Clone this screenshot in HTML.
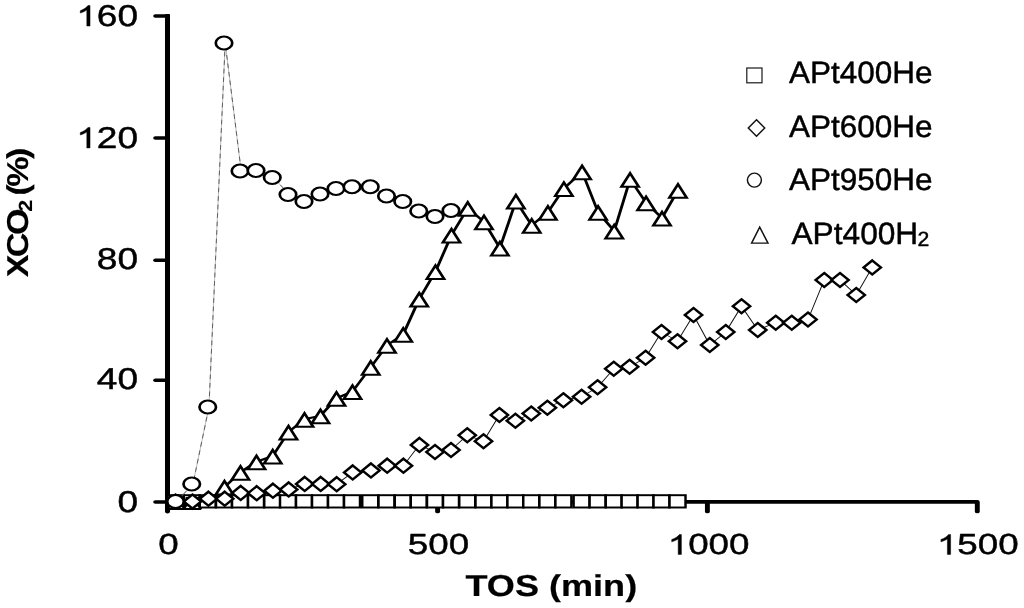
<!DOCTYPE html>
<html><head><meta charset="utf-8"><title>chart</title>
<style>html,body{margin:0;padding:0;background:#fff;}svg{display:block;filter:grayscale(1);}text{font-family:"Liberation Sans",sans-serif;text-rendering:geometricPrecision;fill:#000;stroke:#000;stroke-width:0.45;vector-effect:non-scaling-stroke;stroke-linejoin:round;}</style>
</head><body>
<svg width="1024" height="608" viewBox="0 0 1024 608">
<rect x="0" y="0" width="1024" height="608" fill="#fff"/>
<g transform="scale(1.27 1)">
<g stroke="#000" fill="none" stroke-linecap="round" stroke-width="3.6">
<path d="M131.89 16 V511.6" stroke-width="3.95"/>
<path d="M131.89 14.2 V20" stroke-width="3.95" stroke-linecap="butt"/>
<path d="M132.05 501.9 H769.53" stroke-linecap="butt"/>
<path d="M122.36 16 H131.5" stroke-width="3.5"/>
<path d="M122.36 138 H131.5" stroke-width="3.5"/>
<path d="M122.36 260.2 H131.5" stroke-width="3.5"/>
<path d="M122.36 380.2 H131.5" stroke-width="3.5"/>
<path d="M122.36 502 H131.5" stroke-width="3.5"/>
<path d="M344.57 501.9 V511.4" stroke-width="3.86"/>
<path d="M557.01 501.9 V511.4" stroke-width="3.86"/>
<path d="M769.53 501.9 V511.4" stroke-width="3.86"/>
</g>
<g stroke="#000" stroke-width="1.95" fill="#fff">
<rect x="131.89" y="495.2" width="12.6" height="12.3"/>
<rect x="144.69" y="495.2" width="12.6" height="12.3"/>
<rect x="157.28" y="495.2" width="12.6" height="12.3"/>
<rect x="170.08" y="495.2" width="12.6" height="12.3"/>
<rect x="182.68" y="495.2" width="12.6" height="12.3"/>
<rect x="195.28" y="495.2" width="12.6" height="12.3"/>
<rect x="208.07" y="495.2" width="12.6" height="12.3"/>
<rect x="220.47" y="495.2" width="12.6" height="12.3"/>
<rect x="233.07" y="495.2" width="12.6" height="12.3"/>
<rect x="245.67" y="495.2" width="12.6" height="12.3"/>
<rect x="258.27" y="495.2" width="12.6" height="12.3"/>
<rect x="270.87" y="495.2" width="12.6" height="12.3"/>
<rect x="285.24" y="495.2" width="12.6" height="12.3"/>
<rect x="298.03" y="495.2" width="12.6" height="12.3"/>
<rect x="310.83" y="495.2" width="12.6" height="12.3"/>
<rect x="323.43" y="495.2" width="12.6" height="12.3"/>
<rect x="336.22" y="495.2" width="12.6" height="12.3"/>
<rect x="348.82" y="495.2" width="12.6" height="12.3"/>
<rect x="361.61" y="495.2" width="12.6" height="12.3"/>
<rect x="374.41" y="495.2" width="12.6" height="12.3"/>
<rect x="386.93" y="495.2" width="12.6" height="12.3"/>
<rect x="399.53" y="495.2" width="12.6" height="12.3"/>
<rect x="412.01" y="495.2" width="12.6" height="12.3"/>
<rect x="424.72" y="495.2" width="12.6" height="12.3"/>
<rect x="437.32" y="495.2" width="12.6" height="12.3"/>
<rect x="451.65" y="495.2" width="12.6" height="12.3"/>
<rect x="464.25" y="495.2" width="12.6" height="12.3"/>
<rect x="476.97" y="495.2" width="12.6" height="12.3"/>
<rect x="489.45" y="495.2" width="12.6" height="12.3"/>
<rect x="502.05" y="495.2" width="12.6" height="12.3"/>
<rect x="514.57" y="495.2" width="12.6" height="12.3"/>
<rect x="527.17" y="495.2" width="12.6" height="12.3"/>
</g>
<polyline points="176.77,487 189.37,472.25 201.97,461.75 214.76,456 227.17,432 239.76,419.25 252.36,415.75 264.96,398.25 277.56,391.5 291.93,367.25 304.72,345.25 317.52,334.25 330.12,299 342.91,271.5 355.51,235 368.31,208.25 381.1,221.75 393.62,248 406.22,201 418.7,225.25 431.42,212.25 444.02,188.5 458.35,171.75 470.94,212.25 483.66,231 496.14,179.25 508.74,202.75 521.26,218 533.86,190.25" fill="none" stroke="#000" stroke-width="2.3" stroke-linejoin="round"/>
<path d="M138.19 501.5 H150.98" fill="none" stroke="#000" stroke-width="2.3"/>
<g stroke="#000" stroke-width="2.2" fill="#fff" stroke-linejoin="miter">
<path d="M138.58 495.4 L145.38 509 L131.78 509 Z" stroke-linejoin="bevel"/>
<path d="M151.38 495.4 L158.18 509 L144.58 509 Z" stroke-linejoin="bevel"/>
<path d="M176.77 480.9 L183.57 494.5 L169.97 494.5 Z"/>
<path d="M189.37 466.15 L196.17 479.75 L182.57 479.75 Z"/>
<path d="M201.97 455.65 L208.77 469.25 L195.17 469.25 Z"/>
<path d="M214.76 449.9 L221.56 463.5 L207.96 463.5 Z"/>
<path d="M227.17 425.9 L233.97 439.5 L220.37 439.5 Z"/>
<path d="M239.76 413.15 L246.56 426.75 L232.96 426.75 Z"/>
<path d="M252.36 409.65 L259.16 423.25 L245.56 423.25 Z"/>
<path d="M264.96 392.15 L271.76 405.75 L258.16 405.75 Z"/>
<path d="M277.56 385.4 L284.36 399 L270.76 399 Z"/>
<path d="M291.93 361.15 L298.73 374.75 L285.13 374.75 Z"/>
<path d="M304.72 339.15 L311.52 352.75 L297.92 352.75 Z"/>
<path d="M317.52 328.15 L324.32 341.75 L310.72 341.75 Z"/>
<path d="M330.12 292.9 L336.92 306.5 L323.32 306.5 Z"/>
<path d="M342.91 265.4 L349.71 279 L336.11 279 Z"/>
<path d="M355.51 228.9 L362.31 242.5 L348.71 242.5 Z"/>
<path d="M368.31 202.15 L375.11 215.75 L361.51 215.75 Z"/>
<path d="M381.1 215.65 L387.9 229.25 L374.3 229.25 Z"/>
<path d="M393.62 241.9 L400.42 255.5 L386.82 255.5 Z"/>
<path d="M406.22 194.9 L413.02 208.5 L399.42 208.5 Z"/>
<path d="M418.7 219.15 L425.5 232.75 L411.9 232.75 Z"/>
<path d="M431.42 206.15 L438.22 219.75 L424.62 219.75 Z"/>
<path d="M444.02 182.4 L450.82 196 L437.22 196 Z"/>
<path d="M458.35 165.65 L465.15 179.25 L451.55 179.25 Z"/>
<path d="M470.94 206.15 L477.74 219.75 L464.14 219.75 Z"/>
<path d="M483.66 224.9 L490.46 238.5 L476.86 238.5 Z"/>
<path d="M496.14 173.15 L502.94 186.75 L489.34 186.75 Z"/>
<path d="M508.74 196.65 L515.54 210.25 L501.94 210.25 Z"/>
<path d="M521.26 211.9 L528.06 225.5 L514.46 225.5 Z"/>
<path d="M533.86 184.15 L540.66 197.75 L527.06 197.75 Z"/>
</g>
<rect x="146.14" y="497" width="10.39" height="9.2" fill="#000"/>
<polyline points="138.19,501.5 151.54,501.6 164.13,498.65 176.93,498.65 189.53,492.9 202.13,493.15 214.92,490.65 227.32,489.4 239.92,483.9 252.52,483.9 265.12,484.15 277.72,472.4 292.09,470.4 304.88,465.65 317.68,465.65 330.28,444.9 342.52,452 355.12,450 367.91,435.25 380.71,441.25 393.23,415 405.83,420.75 418.31,413.5 431.02,407.75 443.62,400.25 457.95,396.75 470.55,387.25 483.27,368.75 495.75,366.75 508.35,357.75 520.87,332 533.46,341.25 546.06,315 558.86,345 571.46,332 583.86,306.25 596.65,330 610.83,322.75 623.43,322.75 636.22,319.5 649.02,280 661.42,280 674.21,295 686.81,267.4" fill="none" stroke="#111" stroke-width="0.8"/>
<g stroke="#000" stroke-width="2.2" fill="#fff" stroke-linejoin="miter">
<path d="M138.19 494.5 L144.99 501.5 L138.19 508.5 L131.39 501.5 Z"/>
<path d="M151.54 494.6 L158.34 501.6 L151.54 508.6 L144.74 501.6 Z"/>
<path d="M164.13 491.65 L170.93 498.65 L164.13 505.65 L157.33 498.65 Z"/>
<path d="M176.93 491.65 L183.73 498.65 L176.93 505.65 L170.13 498.65 Z"/>
<path d="M189.53 485.9 L196.33 492.9 L189.53 499.9 L182.73 492.9 Z"/>
<path d="M202.13 486.15 L208.93 493.15 L202.13 500.15 L195.33 493.15 Z"/>
<path d="M214.92 483.65 L221.72 490.65 L214.92 497.65 L208.12 490.65 Z"/>
<path d="M227.32 482.4 L234.12 489.4 L227.32 496.4 L220.52 489.4 Z"/>
<path d="M239.92 476.9 L246.72 483.9 L239.92 490.9 L233.12 483.9 Z"/>
<path d="M252.52 476.9 L259.32 483.9 L252.52 490.9 L245.72 483.9 Z"/>
<path d="M265.12 477.15 L271.92 484.15 L265.12 491.15 L258.32 484.15 Z"/>
<path d="M277.72 465.4 L284.52 472.4 L277.72 479.4 L270.92 472.4 Z"/>
<path d="M292.09 463.4 L298.89 470.4 L292.09 477.4 L285.29 470.4 Z"/>
<path d="M304.88 458.65 L311.68 465.65 L304.88 472.65 L298.08 465.65 Z"/>
<path d="M317.68 458.65 L324.48 465.65 L317.68 472.65 L310.88 465.65 Z"/>
<path d="M330.28 437.9 L337.08 444.9 L330.28 451.9 L323.48 444.9 Z"/>
<path d="M342.52 445 L349.32 452 L342.52 459 L335.72 452 Z"/>
<path d="M355.12 443 L361.92 450 L355.12 457 L348.32 450 Z"/>
<path d="M367.91 428.25 L374.71 435.25 L367.91 442.25 L361.11 435.25 Z"/>
<path d="M380.71 434.25 L387.51 441.25 L380.71 448.25 L373.91 441.25 Z"/>
<path d="M393.23 408 L400.03 415 L393.23 422 L386.43 415 Z"/>
<path d="M405.83 413.75 L412.63 420.75 L405.83 427.75 L399.03 420.75 Z"/>
<path d="M418.31 406.5 L425.11 413.5 L418.31 420.5 L411.51 413.5 Z"/>
<path d="M431.02 400.75 L437.82 407.75 L431.02 414.75 L424.22 407.75 Z"/>
<path d="M443.62 393.25 L450.42 400.25 L443.62 407.25 L436.82 400.25 Z"/>
<path d="M457.95 389.75 L464.75 396.75 L457.95 403.75 L451.15 396.75 Z"/>
<path d="M470.55 380.25 L477.35 387.25 L470.55 394.25 L463.75 387.25 Z"/>
<path d="M483.27 361.75 L490.07 368.75 L483.27 375.75 L476.47 368.75 Z"/>
<path d="M495.75 359.75 L502.55 366.75 L495.75 373.75 L488.95 366.75 Z"/>
<path d="M508.35 350.75 L515.15 357.75 L508.35 364.75 L501.55 357.75 Z"/>
<path d="M520.87 325 L527.67 332 L520.87 339 L514.07 332 Z"/>
<path d="M533.46 334.25 L540.26 341.25 L533.46 348.25 L526.66 341.25 Z"/>
<path d="M546.06 308 L552.86 315 L546.06 322 L539.26 315 Z"/>
<path d="M558.86 338 L565.66 345 L558.86 352 L552.06 345 Z"/>
<path d="M571.46 325 L578.26 332 L571.46 339 L564.66 332 Z"/>
<path d="M583.86 299.25 L590.66 306.25 L583.86 313.25 L577.06 306.25 Z"/>
<path d="M596.65 323 L603.45 330 L596.65 337 L589.85 330 Z"/>
<path d="M610.83 315.75 L617.63 322.75 L610.83 329.75 L604.03 322.75 Z"/>
<path d="M623.43 315.75 L630.23 322.75 L623.43 329.75 L616.63 322.75 Z"/>
<path d="M636.22 312.5 L643.02 319.5 L636.22 326.5 L629.42 319.5 Z"/>
<path d="M649.02 273 L655.82 280 L649.02 287 L642.22 280 Z"/>
<path d="M661.42 273 L668.22 280 L661.42 287 L654.62 280 Z"/>
<path d="M674.21 288 L681.01 295 L674.21 302 L667.41 295 Z"/>
<path d="M686.81 260.4 L693.61 267.4 L686.81 274.4 L680.01 267.4 Z"/>
</g>
<polyline points="139.13,501.5 151.93,484 164.53,407 177.32,43 189.92,171 202.52,170.5 215.31,177.5 227.72,194.5 240.31,201.5 252.91,194 265.51,188.5 278.11,186.75 292.48,186.75 305.28,196 318.07,201.5 330.67,211 343.46,216.5 356.06,210.5" fill="none" stroke="#999" stroke-width="0.6"/>
<polyline points="139.13,501.5 151.93,484 164.53,407 177.32,43 189.92,171 202.52,170.5 215.31,177.5 227.72,194.5 240.31,201.5 252.91,194 265.51,188.5 278.11,186.75 292.48,186.75 305.28,196 318.07,201.5 330.67,211 343.46,216.5 356.06,210.5" fill="none" stroke="#444" stroke-width="0.7" stroke-dasharray="4.7 3.8"/>
<g stroke="#000" stroke-width="2.1" fill="#fff">
<circle cx="138.19" cy="501.5" r="6.5"/>
<circle cx="150.98" cy="484" r="6.5"/>
<circle cx="163.58" cy="407" r="6.5"/>
<circle cx="176.38" cy="43" r="6.5"/>
<circle cx="188.98" cy="171" r="6.5"/>
<circle cx="201.57" cy="170.5" r="6.5"/>
<circle cx="214.37" cy="177.5" r="6.5"/>
<circle cx="226.77" cy="194.5" r="6.5"/>
<circle cx="239.37" cy="201.5" r="6.5"/>
<circle cx="251.97" cy="194" r="6.5"/>
<circle cx="264.57" cy="188.5" r="6.5"/>
<circle cx="277.17" cy="186.75" r="6.5"/>
<circle cx="291.54" cy="186.75" r="6.5"/>
<circle cx="304.33" cy="196" r="6.5"/>
<circle cx="317.13" cy="201.5" r="6.5"/>
<circle cx="329.72" cy="211" r="6.5"/>
<circle cx="342.52" cy="216.5" r="6.5"/>
<circle cx="355.12" cy="210.5" r="6.5"/>
</g>
</g>
<path transform="translate(76.25 26.05) scale(0.01808 -0.01396)" d="M763 0H583V1147Q518 1085 412.5 1023Q307 961 223 930V1104Q374 1175 487 1276Q600 1377 647 1472H763Z" fill="#000" stroke="#000" stroke-width="0.45" vector-effect="non-scaling-stroke"/>
<text transform="translate(96.83 26.05) scale(1.23 1)" font-size="30.1">60</text>
<path transform="translate(76.25 147.95) scale(0.01808 -0.01396)" d="M763 0H583V1147Q518 1085 412.5 1023Q307 961 223 930V1104Q374 1175 487 1276Q600 1377 647 1472H763Z" fill="#000" stroke="#000" stroke-width="0.45" vector-effect="non-scaling-stroke"/>
<text transform="translate(96.83 147.95) scale(1.23 1)" font-size="30.1">20</text>
<text transform="translate(96.83 269.35) scale(1.23 1)" font-size="30.1">80</text>
<text transform="translate(96.83 389.45) scale(1.23 1)" font-size="30.1">40</text>
<text transform="translate(117.42 511.85) scale(1.23 1)" font-size="30.1">0</text>
<text transform="translate(158.28 554.4) scale(1.268 1)" font-size="29.0">0</text>
<text transform="translate(407.73 554.4) scale(1.268 1)" font-size="29.0">500</text>
<path transform="translate(667.71 554.4) scale(0.01796 -0.01348)" d="M763 0H583V1147Q518 1085 412.5 1023Q307 961 223 930V1104Q374 1175 487 1276Q600 1377 647 1472H763Z" fill="#000" stroke="#000" stroke-width="0.45" vector-effect="non-scaling-stroke"/>
<text transform="translate(688.15 554.4) scale(1.268 1)" font-size="29.0">000</text>
<path transform="translate(936.91 554.4) scale(0.01796 -0.01348)" d="M763 0H583V1147Q518 1085 412.5 1023Q307 961 223 930V1104Q374 1175 487 1276Q600 1377 647 1472H763Z" fill="#000" stroke="#000" stroke-width="0.45" vector-effect="non-scaling-stroke"/>
<text transform="translate(957.35 554.4) scale(1.268 1)" font-size="29.0">500</text>
<text transform="translate(551.3 595.6) scale(1.195 1)" font-size="30.2" font-weight="bold" text-anchor="middle" style="stroke-width:0.2">TOS (min)</text>
<text transform="translate(28.1 277.3) rotate(-90) scale(1.13 1)" font-size="30.2" font-weight="bold" text-anchor="start" style="stroke-width:0.1" letter-spacing="-2.3">XCO<tspan font-size="19" dy="3.4" dx="-0.6">2</tspan><tspan dy="-3.4"> (%)</tspan></text>
<g stroke="#111" stroke-width="1.45" fill="#fff">
<rect x="746.8" y="68" width="15.2" height="14.8" stroke-width="1.25" stroke="#222"/>
<path d="M756.5 119.8 L764.7 128 L756.5 136.2 L748.3 128 Z"/>
<circle cx="754.4" cy="180.1" r="7"/>
<path d="M759.7 227.2 L768 243.1 L751.6 243.1 Z"/>
</g>
<text transform="translate(789 83.4) scale(1.022 1)" font-size="30.8">APt400He</text>
<text transform="translate(789 137.3) scale(1.022 1)" font-size="30.8">APt600He</text>
<text transform="translate(789 190.4) scale(1.022 1)" font-size="30.8">APt950He</text>
<text transform="translate(791.5 243.9) scale(1.028 1)" font-size="30.8">APt400H<tspan font-size="20.6" dy="1.9" dx="-0.8">2</tspan></text>
</svg>
</body></html>
